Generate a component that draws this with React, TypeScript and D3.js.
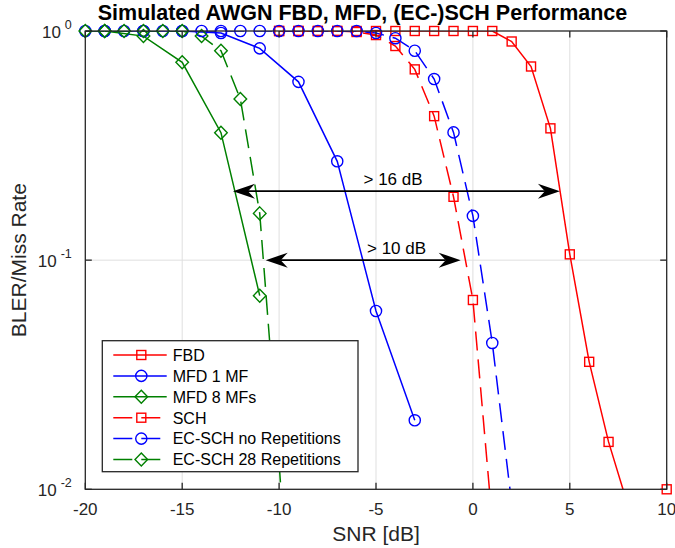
import * as d3 from "d3";

const WIDTH = 675;
const HEIGHT = 548;
const MARGIN = { top: 31, left: 85.3, right: 8.3, bottom: 58.7 };
const FONT = "'Liberation Sans', Arial, Helvetica, sans-serif";

// axes
const xTicks = [-20, -15, -10, -5, 0, 5, 10];
const yTicks = [1, 0.1, 0.01];
const yTickExp = ["0", "-1", "-2"];

// FBD (solid red, squares)
const fbdSnr = [-10, -9, -8, -7, -6, -5, -4, -3, -2, -1, 0, 1, 2, 3, 4, 5, 6, 7, 8, 9, 10];
const fbdRate = [1, 1, 1, 1, 1, 1, 1, 1, 1, 1, 1, 1, 0.9, 0.7, 0.376, 0.106, 0.036, 0.0161, 0.0085, 0.004, 0.01];

// MFD 1 MF (solid blue, circles)
const mfd1Snr = [-19, -17, -15, -13, -11, -9, -7, -5, -3];
const mfd1Rate = [1, 1, 1, 0.98, 0.84, 0.6, 0.27, 0.06, 0.02];

// MFD 8 MFs (solid green, diamonds)
const mfd8Snr = [-19, -17, -15, -13, -11];
const mfd8Rate = [1, 0.95, 0.73, 0.36, 0.07];

// SCH (dashed red, squares)
const schSnr = [-10, -9, -8, -7, -6, -5, -4, -3, -2, -1, 0, 1];
const schRate = [1, 1, 1, 1, 0.99, 0.96, 0.86, 0.68, 0.425, 0.189, 0.067, 0.0072];

// EC-SCH no repetitions (dashed blue, circles)
const ecSnr = [-20, -19, -18, -17, -16, -15, -14, -13, -12, -11, -10, -9, -8, -7, -6, -5, -4, -3, -2, -1, 0, 1, 2];
const ecRate = [1, 1, 1, 1, 1, 1, 1, 1, 1, 1, 1, 1, 1, 1, 1, 0.98, 0.93, 0.82, 0.617, 0.361, 0.156, 0.0435, 0.0087];

// EC-SCH 28 repetitions (dashed green, diamonds)
const ec28Snr = [-20, -19, -18, -17, -16, -15, -14, -13, -12, -11, -10, -9];
const ec28Rate = [1, 1, 1, 1, 1, 1, 0.95, 0.82, 0.505, 0.16, 0.013, 0.0008];

// annotations (data coords)
const arrowFrom = [-12.38, -10.69];
const arrowTo = [4.49, -0.63];
const arrowRate = [0.2, 0.1];
const arrowLabelX = [-4.12, -3.94];
const arrowLabels = ["> 16 dB", "> 10 dB"];

type Marker = "square" | "circle" | "diamond";
const series = [
  { name: "FBD", x: fbdSnr, y: fbdRate, color: "#ff0000", dashed: false, marker: "square" as Marker },
  { name: "MFD 1 MF", x: mfd1Snr, y: mfd1Rate, color: "#0000ff", dashed: false, marker: "circle" as Marker },
  { name: "MFD 8 MFs", x: mfd8Snr, y: mfd8Rate, color: "#008000", dashed: false, marker: "diamond" as Marker },
  { name: "SCH", x: schSnr, y: schRate, color: "#ff0000", dashed: true, marker: "square" as Marker },
  { name: "EC-SCH no Repetitions", x: ecSnr, y: ecRate, color: "#0000ff", dashed: true, marker: "circle" as Marker },
  { name: "EC-SCH 28 Repetitions", x: ec28Snr, y: ec28Rate, color: "#008000", dashed: true, marker: "diamond" as Marker },
];

const DASH = "19 9";

function MarkerShape({ type, cx, cy, color }: { type: Marker; cx: number; cy: number; color: string }) {
  if (type === "square") {
    return <rect x={cx - 4.5} y={cy - 4.5} width={9} height={9} fill="none" stroke={color} strokeWidth={1.4} />;
  }
  if (type === "circle") {
    return <circle cx={cx} cy={cy} r={5.6} fill="none" stroke={color} strokeWidth={1.4} />;
  }
  return (
    <path
      d={`M${cx},${cy - 6.5}L${cx + 6.3},${cy}L${cx},${cy + 6.5}L${cx - 6.3},${cy}Z`}
      fill="none"
      stroke={color}
      strokeWidth={1.4}
    />
  );
}

function arrowHead(tx: number, ty: number, dir: number) {
  const L = 22, hw = 7.5, N = 15;
  return `M${tx},${ty}L${tx - dir * L},${ty - hw}L${tx - dir * N},${ty}L${tx - dir * L},${ty + hw}Z`;
}

export default function App() {
  const x = d3.scaleLinear().domain([-20, 10]).range([MARGIN.left, WIDTH - MARGIN.right]);
  const y = d3.scaleLog().domain([0.01, 1]).range([HEIGHT - MARGIN.bottom, MARGIN.top]);
  const x0 = x(-20), x1 = x(10), y0 = y(0.01), y1 = y(1);

  const lineGen = d3
    .line<[number, number]>()
    .defined((d) => d[1] > 0)
    .x((d) => x(d[0]))
    .y((d) => y(d[1]));

  const axisColor = "#262626";
  const tickLen = 6.5;

  return (
    <div style={{ position: "absolute", left: 0, top: 0 }}>
      <svg width={WIDTH} height={HEIGHT} viewBox={`0 0 ${WIDTH} ${HEIGHT}`} style={{ display: "block", fontFamily: FONT }}>
        <rect width={WIDTH} height={HEIGHT} fill="#ffffff" />
        <defs>
          <clipPath id="plot-clip">
            <rect x={x0} y={y1} width={x1 - x0} height={y0 - y1} />
          </clipPath>
        </defs>

        {/* grid */}
        <g stroke="#dfdfdf" strokeWidth={1}>
          {xTicks.slice(1, -1).map((t) => (
            <line key={t} x1={x(t)} x2={x(t)} y1={y1} y2={y0} />
          ))}
          {yTicks.slice(1, -1).map((t) => (
            <line key={t} x1={x0} x2={x1} y1={y(t)} y2={y(t)} />
          ))}
        </g>

        {/* lines */}
        <g clipPath="url(#plot-clip)" fill="none">
          {series.map((s) => (
            <path
              key={s.name}
              d={lineGen(s.x.map((v, i) => [v, s.y[i]] as [number, number])) || ""}
              stroke={s.color}
              strokeWidth={1.5}
              strokeDasharray={s.dashed ? DASH : undefined}
            />
          ))}
        </g>

        {/* markers */}
        {series.map((s) => (
          <g key={s.name + "-m"}>
            {s.x.map((v, i) => {
              const r = s.y[i];
              if (r < 0.00999 || r > 1.001 || v < -20 || v > 10) return null;
              return <MarkerShape key={i} type={s.marker} cx={x(v)} cy={y(r)} color={s.color} />;
            })}
          </g>
        ))}

        {/* box and ticks */}
        <g stroke={axisColor} strokeWidth={1.3} fill="none">
          <rect x={x0} y={y1} width={x1 - x0} height={y0 - y1} />
          {xTicks.map((t) => (
            <g key={t}>
              <line x1={x(t)} x2={x(t)} y1={y0} y2={y0 - tickLen} />
              <line x1={x(t)} x2={x(t)} y1={y1} y2={y1 + tickLen} />
            </g>
          ))}
          {yTicks.map((t) => (
            <g key={t}>
              <line x1={x0} x2={x0 + tickLen} y1={y(t)} y2={y(t)} />
              <line x1={x1} x2={x1 - tickLen} y1={y(t)} y2={y(t)} />
            </g>
          ))}
        </g>

        {/* tick labels */}
        <g fill={axisColor} fontSize={17}>
          {xTicks.map((t) => (
            <text key={t} x={x(t)} y={y0 + 26} textAnchor="middle">
              {t}
            </text>
          ))}
          {yTicks.map((t, i) => (
            <text key={t} x={x0 - 13.5} y={y(t) + 7} textAnchor="end">
              10
              <tspan fontSize={12.5} dx={4} dy={-9}>
                {yTickExp[i]}
              </tspan>
            </text>
          ))}
        </g>

        {/* axis labels and title */}
        <text x={(x0 + x1) / 2} y={541} textAnchor="middle" fontSize={21} fill={axisColor}>
          SNR [dB]
        </text>
        <text
          transform={`translate(26,${(y0 + y1) / 2}) rotate(-90)`}
          textAnchor="middle"
          fontSize={21}
          fill={axisColor}
        >
          BLER/Miss Rate
        </text>
        <text x={362.5} y={20} textAnchor="middle" fontSize={21.5} fontWeight="bold" fill="#000">
          Simulated AWGN FBD, MFD, (EC-)SCH Performance
        </text>

        {/* arrows */}
        {arrowFrom.map((a, i) => {
          const xa = x(a), xb = x(arrowTo[i]), ya = y(arrowRate[i]);
          return (
            <g key={i}>
              <line x1={xa + 15} x2={xb - 15} y1={ya} y2={ya} stroke="#000" strokeWidth={1.6} />
              <path d={arrowHead(xa, ya, -1)} fill="#000" />
              <path d={arrowHead(xb, ya, 1)} fill="#000" />
              <text x={x(arrowLabelX[i])} y={ya - 6.5} textAnchor="middle" fontSize={17} fill="#000">
                {arrowLabels[i]}
              </text>
            </g>
          );
        })}

        {/* legend */}
        <g>
          <rect x={102.3} y={340.7} width={255.7} height={131} fill="#fff" stroke={axisColor} strokeWidth={1.3} />
          {series.map((s, i) => {
            const ry = 355 + i * 20.9;
            return (
              <g key={s.name + "-l"}>
                <line
                  x1={113.3}
                  x2={166.7}
                  y1={ry}
                  y2={ry}
                  stroke={s.color}
                  strokeWidth={1.5}
                  strokeDasharray={s.dashed ? DASH : undefined}
                />
                <MarkerShape type={s.marker} cx={141.3} cy={ry} color={s.color} />
                <text x={172.7} y={ry + 5.8} fontSize={16} fill="#000">
                  {s.name}
                </text>
              </g>
            );
          })}
        </g>
      </svg>
    </div>
  );
}
